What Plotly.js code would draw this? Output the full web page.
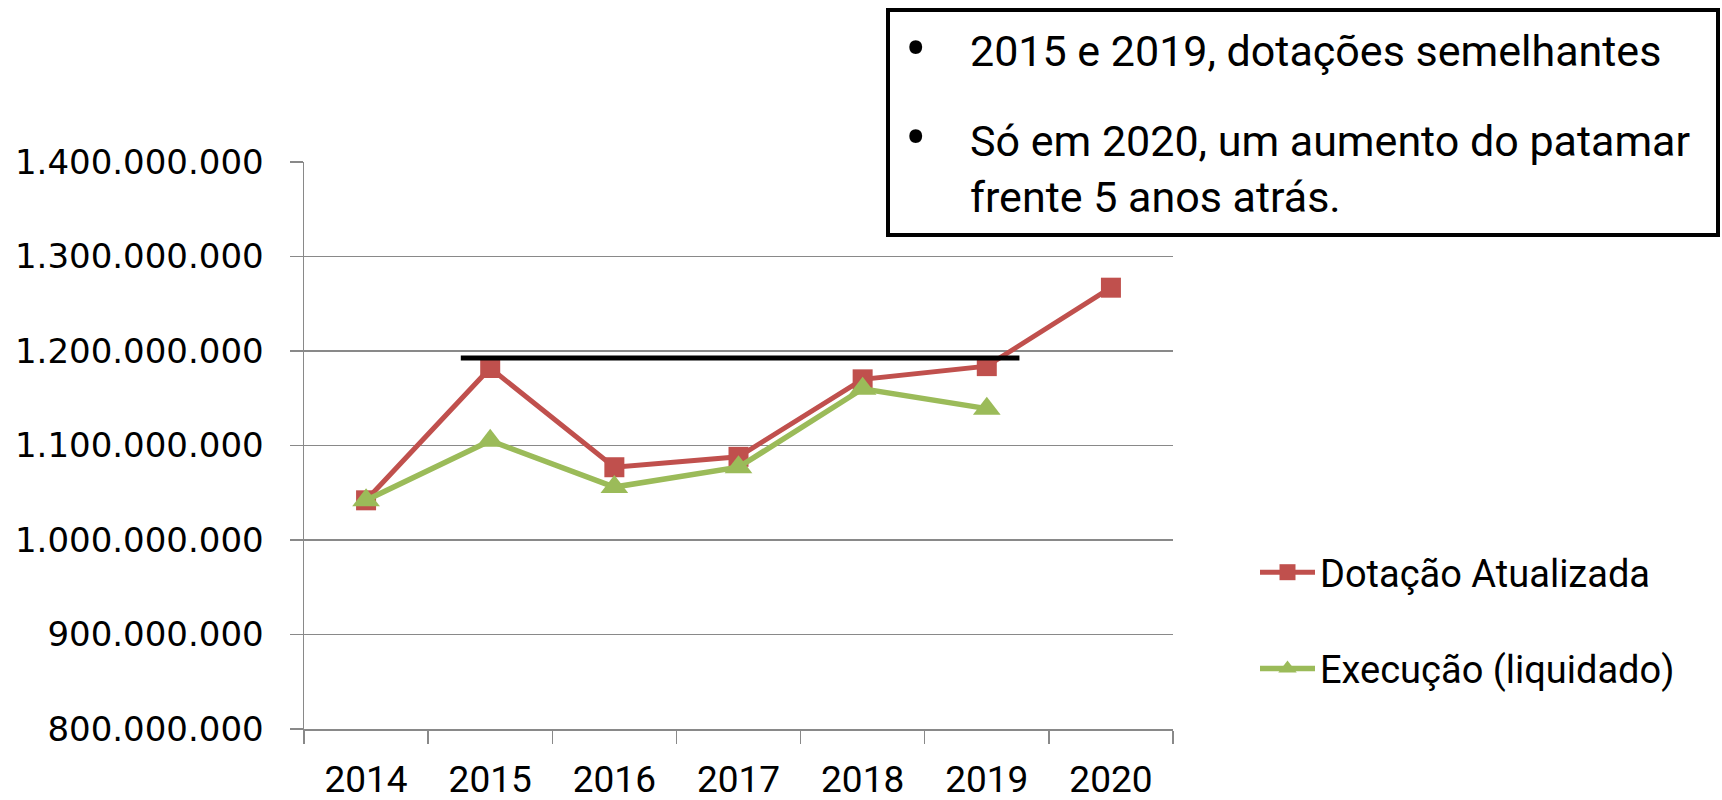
<!DOCTYPE html>
<html>
<head>
<meta charset="utf-8">
<script src="https://cdn.plot.ly/plotly-3.0.1.min.js"></script>
<style>
  html, body { margin: 0; padding: 0; background: #fff; }
  #chart { width: 1722px; height: 800px; }
</style>
</head>
<body>
<div id="chart"></div>
<script>
var years = ['2014', '2015', '2016', '2017', '2018', '2019', '2020'];
var dotacao = [1042e6, 1182e6, 1077e6, 1088e6, 1170e6, 1184e6, 1267e6];
var execucao = [1042e6, 1105e6, 1056e6, 1077e6, 1160e6, 1139e6];
var yTicks = [800e6, 900e6, 1000e6, 1100e6, 1200e6, 1300e6, 1400e6];

// reference level drawn across 2015..2019 (category index units)
var levelX = [0.763, 5.263];
var levelY = 1192.6e6;

var notes = [
  ['2015 e 2019, dotações semelhantes'],
  ['Só em 2020, um aumento do patamar', 'frente 5 anos atrás.']
];

var W = 1722, H = 800;
var M = {l: 304, r: 549, t: 162, b: 71};
var pw = W - M.l - M.r, ph = H - M.t - M.b;
function px(x) { return (x - M.l) / pw; }
function py(y) { return (H - M.b - y) / ph; }

var red = '#C0504D', green = '#9BBB59', grid = '#898989';
var txtFont = 'Roboto, "Open Sans", sans-serif';

var trace1 = {
  x: years,
  y: dotacao,
  name: 'Dotação Atualizada',
  legendgroup: 'a',
  type: 'scatter',
  mode: 'lines+markers',
  line: {color: red, width: 5},
  marker: {symbol: 'square', size: 20, color: red}
};

var trace2 = {
  x: years.slice(0, execucao.length),
  y: execucao,
  name: 'Execução (liquidado)',
  legendgroup: 'b',
  type: 'scatter',
  mode: 'lines+markers',
  line: {color: green, width: 5.5},
  marker: {symbol: 'triangle-up', size: 24, color: green}
};

// bullets and note lines
var annotations = [];
var lineY = [[51], [141, 197]];
for (var i = 0; i < notes.length; i++) {
  annotations.push({
    xref: 'paper', yref: 'paper', x: px(916), y: py(lineY[i][0] - 2),
    xanchor: 'center', yanchor: 'middle', showarrow: false,
    text: '•', font: {family: txtFont, size: 64, color: '#000'}
  });
  for (var j = 0; j < notes[i].length; j++) {
    annotations.push({
      xref: 'paper', yref: 'paper', x: px(968), y: py(lineY[i][j]),
      xanchor: 'left', yanchor: 'middle', showarrow: false,
      text: notes[i][j], font: {family: txtFont, size: 43, color: '#000'}
    });
  }
}

var layout = {
  width: W,
  height: H,
  margin: {l: M.l, r: M.r, t: M.t, b: M.b, pad: 0},
  paper_bgcolor: '#fff',
  plot_bgcolor: '#fff',
  separators: ',.',
  showlegend: true,
  legend: {
    x: px(1255), y: py(541), xanchor: 'left', yanchor: 'top',
    traceorder: 'grouped', tracegroupgap: 44, itemwidth: 55,
    font: {family: txtFont, size: 38, color: '#000'},
    bgcolor: 'rgba(0,0,0,0)'
  },
  xaxis: {
    type: 'category',
    range: [-0.5, 6.5],
    tickson: 'boundaries',
    ticks: 'outside', ticklen: 13, tickwidth: 1.5, tickcolor: grid,
    showline: true, linecolor: grid, linewidth: 1.5,
    showgrid: false, zeroline: false,
    ticklabelstandoff: 17,
    tickfont: {family: txtFont, size: 37, color: '#000'},
    fixedrange: true
  },
  yaxis: {
    range: [800e6, 1400e6],
    tickvals: yTicks,
    tickformat: ',d',
    ticks: 'outside', ticklen: 13, tickwidth: 1.5, tickcolor: grid,
    showline: true, linecolor: grid, linewidth: 1.5,
    showgrid: true, gridcolor: grid, gridwidth: 1.5,
    zeroline: false,
    ticklabelstandoff: 19,
    tickfont: {family: 'DejaVu Sans, Verdana, sans-serif', size: 34, color: '#000'},
    fixedrange: true
  },
  shapes: [
    {
      type: 'line', xref: 'x', yref: 'y', layer: 'above',
      x0: levelX[0], x1: levelX[1], y0: levelY, y1: levelY,
      line: {color: '#000', width: 5}
    },
    {
      type: 'rect', xref: 'paper', yref: 'paper', layer: 'above',
      x0: px(888), x1: px(1718), y0: py(235), y1: py(10),
      fillcolor: '#fff', line: {color: '#000', width: 4}
    }
  ],
  annotations: annotations
};

Plotly.newPlot('chart', [trace1, trace2], layout, {staticPlot: true});
</script>
</body>
</html>
